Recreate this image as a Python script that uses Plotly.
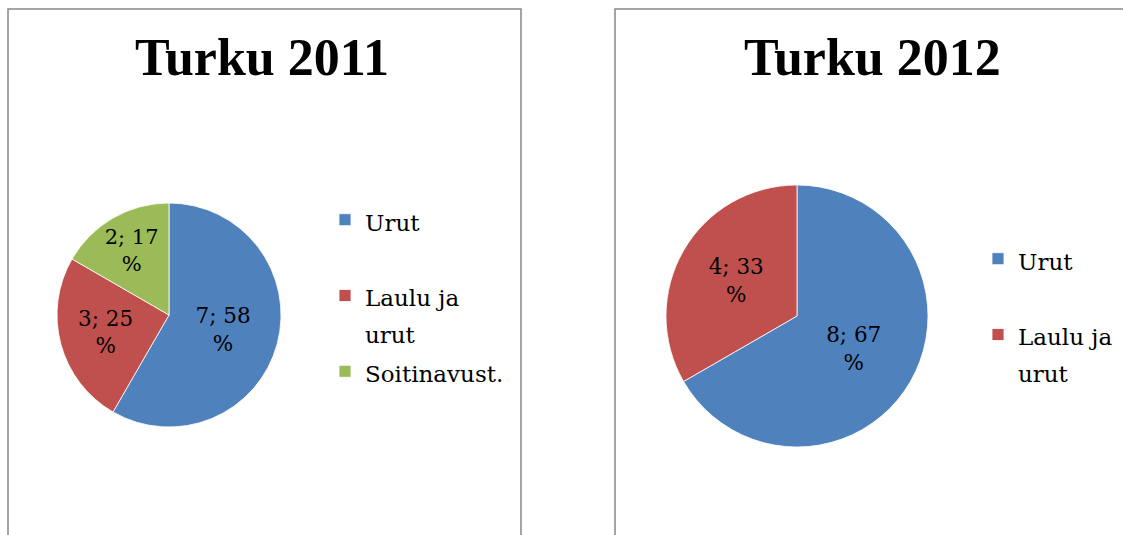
import plotly.graph_objects as go

labels_2011 = ["Urut", "Laulu ja urut", "Soitinavust."]
values_2011 = [7, 3, 2]
labels_2012 = ["Urut", "Laulu ja urut"]
values_2012 = [8, 4]
titles = ["Turku 2011", "Turku 2012"]
colors = ["#4F81BD", "#C0504D", "#9BBB59"]

TITLE_FONT = "Liberation Serif"
FONT = "DejaVu Serif"
W, H = 1123, 535


def pct_text(values):
    tot = sum(values)
    return [f"{v}; {round(v / tot * 100)}<br>%" for v in values]


def legend_label(lbl, chart_idx):
    # wrap like the original legend and pad single-line entries to two lines;
    # the style string differs per chart so each pie keeps its own legend entries
    words = lbl.split(" ")
    if len(words) > 2:
        txt = " ".join(words[:2]) + "<br>" + " ".join(words[2:])
    else:
        txt = lbl + "<br> "
    style = "font-size:23px" + (";" * chart_idx)
    return f"<span style='{style}'>{txt}</span>"


def px(x):
    return x / W


def py(y):
    return 1 - y / H


fig = go.Figure()
fig.add_trace(go.Pie(
    labels=[legend_label(l, 0) for l in labels_2011], values=values_2011,
    sort=False, direction="clockwise", rotation=0,
    text=pct_text(values_2011), textinfo="text",
    textposition="inside", insidetextorientation="horizontal",
    textfont=dict(family=FONT, size=21.5, color="black"),
    marker=dict(colors=colors[:3], line=dict(color="white", width=0.8)),
    domain=dict(x=[px(57), px(281)], y=[py(427), py(203)]),
    legend="legend", hoverinfo="value+percent",
))
fig.add_trace(go.Pie(
    labels=[legend_label(l, 1) for l in labels_2012], values=values_2012,
    sort=False, direction="clockwise", rotation=0,
    text=pct_text(values_2012), textinfo="text",
    textposition="inside", insidetextorientation="horizontal",
    textfont=dict(family=FONT, size=21.5, color="black"),
    marker=dict(colors=colors[:2], line=dict(color="white", width=0.8)),
    domain=dict(x=[px(666), px(928)], y=[py(447), py(185)]),
    legend="legend2", hoverinfo="value+percent",
))

leg_common = dict(font=dict(family=FONT, size=28, color="black"),
                  bgcolor="rgba(0,0,0,0)", valign="top",
                  xanchor="left", yanchor="top", tracegroupgap=0)

fig.update_layout(
    width=W, height=H,
    margin=dict(l=0, r=0, t=0, b=0),
    paper_bgcolor="white", plot_bgcolor="white",
    font=dict(family=FONT, color="black"),
    legend=dict(x=px(325), y=py(195), **leg_common),
    legend2=dict(x=px(978), y=py(234), **leg_common),
    shapes=[
        dict(type="rect", xref="paper", yref="paper",
             x0=px(8), x1=px(521), y0=py(545), y1=py(9),
             line=dict(color="#878787", width=1.5)),
        dict(type="rect", xref="paper", yref="paper",
             x0=px(615), x1=px(1140), y0=py(545), y1=py(9),
             line=dict(color="#878787", width=1.5)),
    ],
    annotations=[
        dict(text=f"<b>{titles[0]}</b>", x=px(262), y=py(58), xref="paper", yref="paper",
             showarrow=False, font=dict(family=TITLE_FONT, size=52, color="black"),
             xanchor="center", yanchor="middle"),
        dict(text=f"<b>{titles[1]}</b>", x=px(872), y=py(58), xref="paper", yref="paper",
             showarrow=False, font=dict(family=TITLE_FONT, size=52, color="black"),
             xanchor="center", yanchor="middle"),
    ],
)

fig.write_html("out.html", config={"displayModeBar": False},
               post_script="document.body.style.margin='0px';")
